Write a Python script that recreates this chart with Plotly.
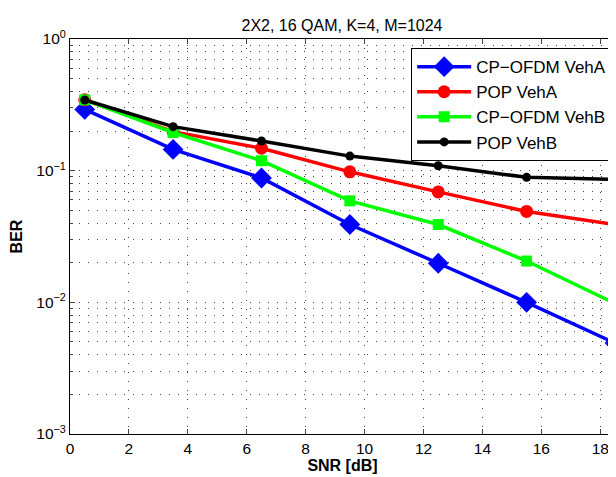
import plotly.graph_objects as go

snr = [0.5, 3.5, 6.5, 9.5, 12.5, 15.5, 18.5]
cp_ofdm_veha = [0.292, 0.145, 0.088, 0.039, 0.0198, 0.0100, 0.0049]
pop_veha = [0.345, 0.198, 0.148, 0.098, 0.069, 0.049, 0.039]
cp_ofdm_vehb = [0.345, 0.195, 0.119, 0.059, 0.039, 0.0206, 0.0098]
pop_vehb = [0.344, 0.216, 0.168, 0.129, 0.109, 0.089, 0.086]

series_names = ["CP\u2212OFDM VehA", "POP VehA", "CP\u2212OFDM VehB", "POP VehB"]
x_ticks = [0, 2, 4, 6, 8, 10, 12, 14, 16, 18]
y_ticks = [1e-3, 1e-2, 1e-1, 1e0]
y_ticktext = ["10<sup>\u22123</sup>", "10<sup>\u22122</sup>", "10<sup>\u22121</sup>", "10<sup>0</sup>"]

styles = [
    dict(color="#0000ff", symbol="diamond", size=16),
    dict(color="#ff0000", symbol="circle", size=13),
    dict(color="#00ff00", symbol="square", size=11),
    dict(color="#000000", symbol="circle", size=9),
]
data = [cp_ofdm_veha, pop_veha, cp_ofdm_vehb, pop_vehb]

fig = go.Figure()
for name, ys, st in zip(series_names, data, styles):
    fig.add_trace(go.Scatter(
        x=snr, y=ys, name=name, mode="lines+markers",
        line=dict(color=st["color"], width=3.5),
        marker=dict(symbol=st["symbol"], size=st["size"], color=st["color"],
                    line=dict(width=0)),
        cliponaxis=True,
    ))

minor_vals = [m * 10 ** e for e in (-3, -2, -1) for m in range(2, 10)]
grid_dash = "1px,8px"
grid_col = "#444444"

# page body has an 8px margin, so figure coordinates are offset by 8px
fig.update_layout(
    width=608, height=469,
    margin=dict(l=62, r=1, t=31, b=43),
    paper_bgcolor="white", plot_bgcolor="white",
    font=dict(family="Liberation Sans, Arial, sans-serif", size=15, color="black"),
    title=dict(text="2X2, 16 QAM, K=4, M=1024", x=334 / 608, xanchor="center",
               y=1 - 17 / 469, yanchor="middle", font=dict(size=16)),
    showlegend=True,
    legend=dict(x=0.626, y=0.977, xanchor="left", yanchor="top",
                bgcolor="white", bordercolor="black", borderwidth=1,
                font=dict(size=17), tracegroupgap=0, itemwidth=54),
    xaxis=dict(range=[0, 18.5], tickvals=x_ticks, ticks="inside", ticklen=5,
               showline=True, linecolor="black", linewidth=1, mirror="ticks",
               showgrid=True, gridcolor=grid_col, griddash=grid_dash, gridwidth=1,
               zeroline=False,
               title=dict(text="<b>SNR [dB]</b>", font=dict(size=16), standoff=2),
               tickfont=dict(size=15.5)),
    yaxis=dict(type="log", range=[-3, 0], tickvals=y_ticks, ticktext=y_ticktext,
               ticks="inside", ticklen=5,
               showline=True, linecolor="black", linewidth=1, mirror="ticks",
               showgrid=True, gridcolor=grid_col, griddash=grid_dash, gridwidth=1,
               zeroline=False,
               minor=dict(tickvals=minor_vals, ticks="inside", ticklen=3,
                          showgrid=True, gridcolor=grid_col, griddash=grid_dash,
                          gridwidth=1),
               title=dict(text="<b>BER</b>", font=dict(size=16), standoff=14),
               tickfont=dict(size=15.5)),
)

fig.write_html("out.html")
